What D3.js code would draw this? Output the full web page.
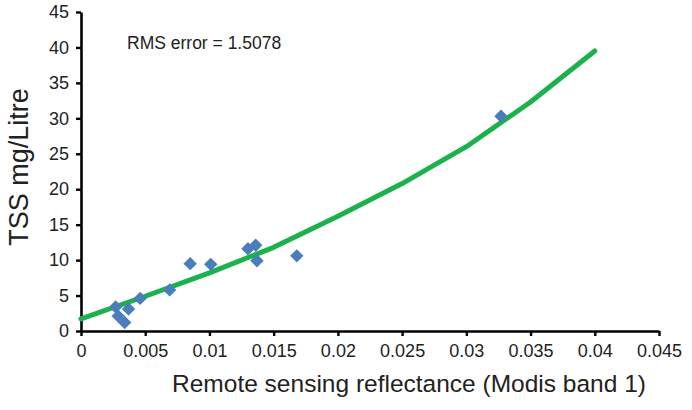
<!DOCTYPE html>
<html>
<head>
<meta charset="utf-8">
<script src="https://cdn.jsdelivr.net/npm/d3@7"></script>
<style>
  body{margin:0;background:#fff;}
  svg text{font-family:"Liberation Sans",Arial,sans-serif;}
</style>
</head>
<body>
<div id="chart"></div>
<script>
// measured points (reflectance, TSS)
var obsX=[0.0027,0.0029,0.0034,0.0037,0.0046,0.0069,0.0085,0.0101,0.0130,0.0136,0.0137,0.0168,0.0327];
var obsY=[3.4,2.1,1.2,3.1,4.6,5.8,9.5,9.4,11.6,12.1,9.9,10.6,30.3];
// fitted curve
var fitX=[0,0.005,0.01,0.015,0.02,0.025,0.03,0.035,0.04];
var fitY=[1.7,4.9,8.2,11.8,16.2,20.8,26.0,32.3,39.5];
// tick labels
var xTicks=[0,0.005,0.01,0.015,0.02,0.025,0.03,0.035,0.04,0.045];
var xTickLabels=["0","0.005","0.01","0.015","0.02","0.025","0.03","0.035","0.04","0.045"];
var yTicks=[0,5,10,15,20,25,30,35,40,45];
var rmsText="RMS error = 1.5078";

var svgwidth=692,svgheight=410;
var _margin={top:12,left:81,right:33,bottom:79};
var w=svgwidth-_margin.left-_margin.right;
var h=svgheight-_margin.top-_margin.bottom;

var _svg=d3.select("#chart").append("svg")
    .attr("width",svgwidth)
    .attr("height",svgheight);
var g=_svg.append("g")
    .attr("transform","translate("+_margin.left+","+_margin.top+")");

var xscale=d3.scaleLinear().domain([0,0.045]).range([0,w]);
var yscale=d3.scaleLinear().domain([0,45]).range([h,0]);

//x轴
var gx=g.append("g").attr("transform","translate(0,"+h+")")
    .call(d3.axisBottom(xscale).tickValues(xTicks).tickSize(5).tickSizeOuter(0)
        .tickFormat(function(d,i){return xTickLabels[i];}));
//y轴
var gy=g.append("g")
    .call(d3.axisLeft(yscale).tickValues(yTicks).tickSize(5).tickSizeOuter(0));

[gx,gy].forEach(function(a){
    a.select(".domain").attr("stroke","#000").attr("stroke-width",2.6);
    a.selectAll(".tick line").attr("stroke","#000").attr("stroke-width",2.4);
    a.selectAll(".tick text").attr("fill","#222").attr("font-size","18px")
        .style("font-family","'Liberation Sans',Arial,sans-serif");
});
gx.selectAll(".tick text").attr("y",13);
gy.selectAll(".tick text").attr("x",-12);

//拟合曲线
var line=d3.line()
    .x(function(d){return xscale(d[0]);})
    .y(function(d){return yscale(d[1]);});
g.append("path")
    .attr("d",line(d3.zip(fitX,fitY)))
    .attr("fill","none")
    .attr("stroke","#1bb14c")
    .attr("stroke-width",5)
    .attr("stroke-linecap","round")
    .attr("stroke-linejoin","round");

//散点（菱形）
var diamond=d3.symbol().type(d3.symbolSquare).size(90);
g.append("g").selectAll("path")
    .data(d3.zip(obsX,obsY))
    .enter()
    .append("path")
    .attr("d",diamond)
    .attr("transform",function(d){
        return "translate("+xscale(d[0])+","+yscale(d[1])+") rotate(45)";
    })
    .attr("fill","#4a7ebb");

//文字
_svg.append("text")
    .attr("x",127).attr("y",49)
    .attr("font-size","17.5px").attr("fill","#222")
    .text(rmsText);
_svg.append("text")
    .attr("x",409).attr("y",392)
    .attr("text-anchor","middle")
    .attr("font-size","24.5px").attr("fill","#222")
    .text("Remote sensing reflectance (Modis band 1)");
_svg.append("text")
    .attr("transform","translate(28,167) rotate(-90)")
    .attr("text-anchor","middle")
    .attr("font-size","27px").attr("fill","#222")
    .text("TSS mg/Litre");
</script>
</body>
</html>
